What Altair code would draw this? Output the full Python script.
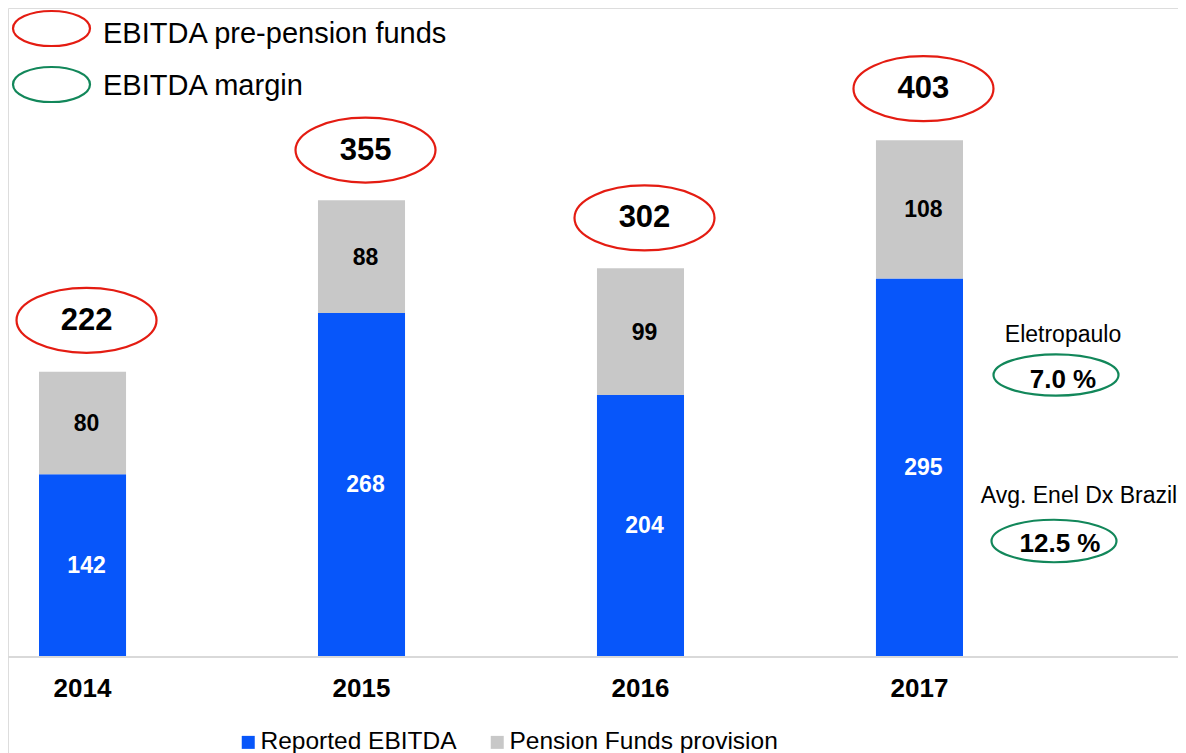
import altair as alt
import pandas as pd

# ---------------- data ----------------
years = ["2014", "2015", "2016", "2017"]
reported = [142, 268, 204, 295]
pension = [80, 88, 99, 108]
totals = [222, 355, 302, 403]
series = ["Reported EBITDA", "Pension Funds provision"]
top_legend = ["EBITDA pre-pension funds", "EBITDA margin"]
margin_names = ["Eletropaulo", "Avg. Enel Dx Brazil"]
margin_values = ["7.0 %", "12.5 %"]

# ---------------- style / layout ----------------
FONT = "Liberation Sans"
BLUE = "#0756FA"
GREY = "#C8C8C8"
RED = "#E41C12"
GREEN = "#12875A"
W, H = 1170, 745
BASE = 648          # pixel row of the value 0
PX = 1.28           # pixels per unit
ymin = -(H - BASE) / PX
ymax = BASE / PX


def ellipse_path(r):
    k = 0.5523
    return (f"M-1,0C-1,{-k*r:.4f},{-k:.4f},{-r:.4f},0,{-r:.4f}"
            f"C{k:.4f},{-r:.4f},1,{-k*r:.4f},1,0"
            f"C1,{k*r:.4f},{k:.4f},{r:.4f},0,{r:.4f}"
            f"C{-k:.4f},{r:.4f},-1,{k*r:.4f},-1,0Z")


rows = []
for i, yr in enumerate(years):
    rows.append(dict(year=yr, series=series[0], lo=0, hi=reported[i],
                     mid=reported[i] / 2, label=str(reported[i])))
    rows.append(dict(year=yr, series=series[1], lo=reported[i],
                     hi=reported[i] + pension[i],
                     mid=reported[i] + pension[i] / 2, label=str(pension[i])))
bars_df = pd.DataFrame(rows)
tot_df = pd.DataFrame({"year": years, "total": totals, "label": [str(t) for t in totals]})
year_df = pd.DataFrame({"year": years})
one = pd.DataFrame({"k": [0]})

x_scale = alt.Scale(domain=years, range=[31, 955], paddingInner=0.688, paddingOuter=0)
y_scale = alt.Scale(domain=[ymin, ymax], nice=False, zero=False)
X = alt.X("year:N", scale=x_scale, sort=years, axis=None)

bars = alt.Chart(bars_df).mark_bar().encode(
    x=X,
    y=alt.Y("hi:Q", scale=y_scale, axis=None),
    y2="lo:Q",
    color=alt.Color("series:N", scale=alt.Scale(domain=series, range=[BLUE, GREY]),
                    legend=alt.Legend(title=None, orient="none", legendX=228, legendY=722,
                                      direction="horizontal", symbolType="square",
                                      symbolSize=169, symbolStrokeWidth=0,
                                      labelFontSize=24.5, labelFont=FONT, labelColor="black",
                                      labelLimit=400, labelOffset=0, columnPadding=28,
                                      padding=0)),
)

# category labels under the bars
year_text = alt.Chart(year_df).mark_text(font=FONT, fontSize=26, fontWeight="bold",
                                         color="black", baseline="alphabetic").encode(
    x=X, y=alt.value(BASE + 41), text="year:N")

seg_text = alt.Chart(bars_df).mark_text(font=FONT, fontSize=23, fontWeight="bold",
                                        dx=4, dy=1, baseline="middle").encode(
    x=X,
    y=alt.Y("mid:Q", scale=y_scale, axis=None),
    text="label:N",
    color=alt.condition(alt.datum.series == series[0], alt.value("white"), alt.value("black")),
)

# horizontal base line across the whole plot width
baseline = alt.Chart(one).mark_rule(color="#D9D9D9", strokeWidth=2).encode(
    x=alt.value(0), x2=alt.value(W), y=alt.value(BASE + 1))

ellipses = alt.Chart(tot_df).mark_point(shape=ellipse_path(0.464), size=140 ** 2,
                                        filled=False, color=RED, strokeWidth=2.2,
                                        opacity=1, xOffset=4, yOffset=-51.5).encode(
    x=X,
    y=alt.Y("total:Q", scale=y_scale, axis=None),
)

tot_text = alt.Chart(tot_df).mark_text(font=FONT, fontSize=31, fontWeight="bold",
                                       color="black", dx=4, dy=-51, baseline="middle").encode(
    x=X,
    y=alt.Y("total:Q", scale=y_scale, axis=None),
    text="label:N",
)

# top legend
leg_red = alt.Chart(one).mark_point(shape=ellipse_path(0.455), size=77 ** 2, filled=False,
                                    color=RED, strokeWidth=2.2, opacity=1).encode(
    x=alt.value(43.5), y=alt.value(20.5))
leg_green = alt.Chart(one).mark_point(shape=ellipse_path(0.455), size=77 ** 2, filled=False,
                                      color=GREEN, strokeWidth=2.2, opacity=1).encode(
    x=alt.value(43.5), y=alt.value(76.5))
leg_t1 = alt.Chart(one).mark_text(font=FONT, fontSize=29, align="left", baseline="alphabetic",
                                  color="black").encode(
    x=alt.value(95), y=alt.value(35), text=alt.value(top_legend[0]))
leg_t2 = alt.Chart(one).mark_text(font=FONT, fontSize=29, align="left", baseline="alphabetic",
                                  color="black").encode(
    x=alt.value(95), y=alt.value(87), text=alt.value(top_legend[1]))

# right-hand margin annotations
m_name1 = alt.Chart(one).mark_text(font=FONT, fontSize=23, align="center",
                                   baseline="alphabetic", color="black").encode(
    x=alt.value(1055), y=alt.value(334), text=alt.value(margin_names[0]))
m_name2 = alt.Chart(one).mark_text(font=FONT, fontSize=23, align="center",
                                   baseline="alphabetic", color="black").encode(
    x=alt.value(1071), y=alt.value(495), text=alt.value(margin_names[1]))
m_ell1 = alt.Chart(one).mark_point(shape=ellipse_path(0.33), size=125 ** 2, filled=False,
                                   color=GREEN, strokeWidth=2.2, opacity=1).encode(
    x=alt.value(1048), y=alt.value(367))
m_ell2 = alt.Chart(one).mark_point(shape=ellipse_path(0.34), size=125 ** 2, filled=False,
                                   color=GREEN, strokeWidth=2.2, opacity=1).encode(
    x=alt.value(1046), y=alt.value(533))
m_val1 = alt.Chart(one).mark_text(font=FONT, fontSize=26, fontWeight="bold", align="center",
                                  baseline="alphabetic", color="black").encode(
    x=alt.value(1055), y=alt.value(380), text=alt.value(margin_values[0]))
m_val2 = alt.Chart(one).mark_text(font=FONT, fontSize=26, fontWeight="bold", align="center",
                                  baseline="alphabetic", color="black").encode(
    x=alt.value(1052), y=alt.value(544), text=alt.value(margin_values[1]))

chart = alt.layer(
    bars, baseline, year_text, seg_text, ellipses, tot_text,
    leg_red, leg_green, leg_t1, leg_t2,
    m_name1, m_name2, m_ell1, m_ell2, m_val1, m_val2,
).properties(
    width=W, height=H, padding=0,
    autosize=alt.AutoSizeParams(type="none"),
).configure_view(stroke=None).configure(font=FONT).configure_axis(
    grid=False, domain=False, ticks=False)

chart.save("out.html", embed_options={"renderer": "svg", "actions": False})
